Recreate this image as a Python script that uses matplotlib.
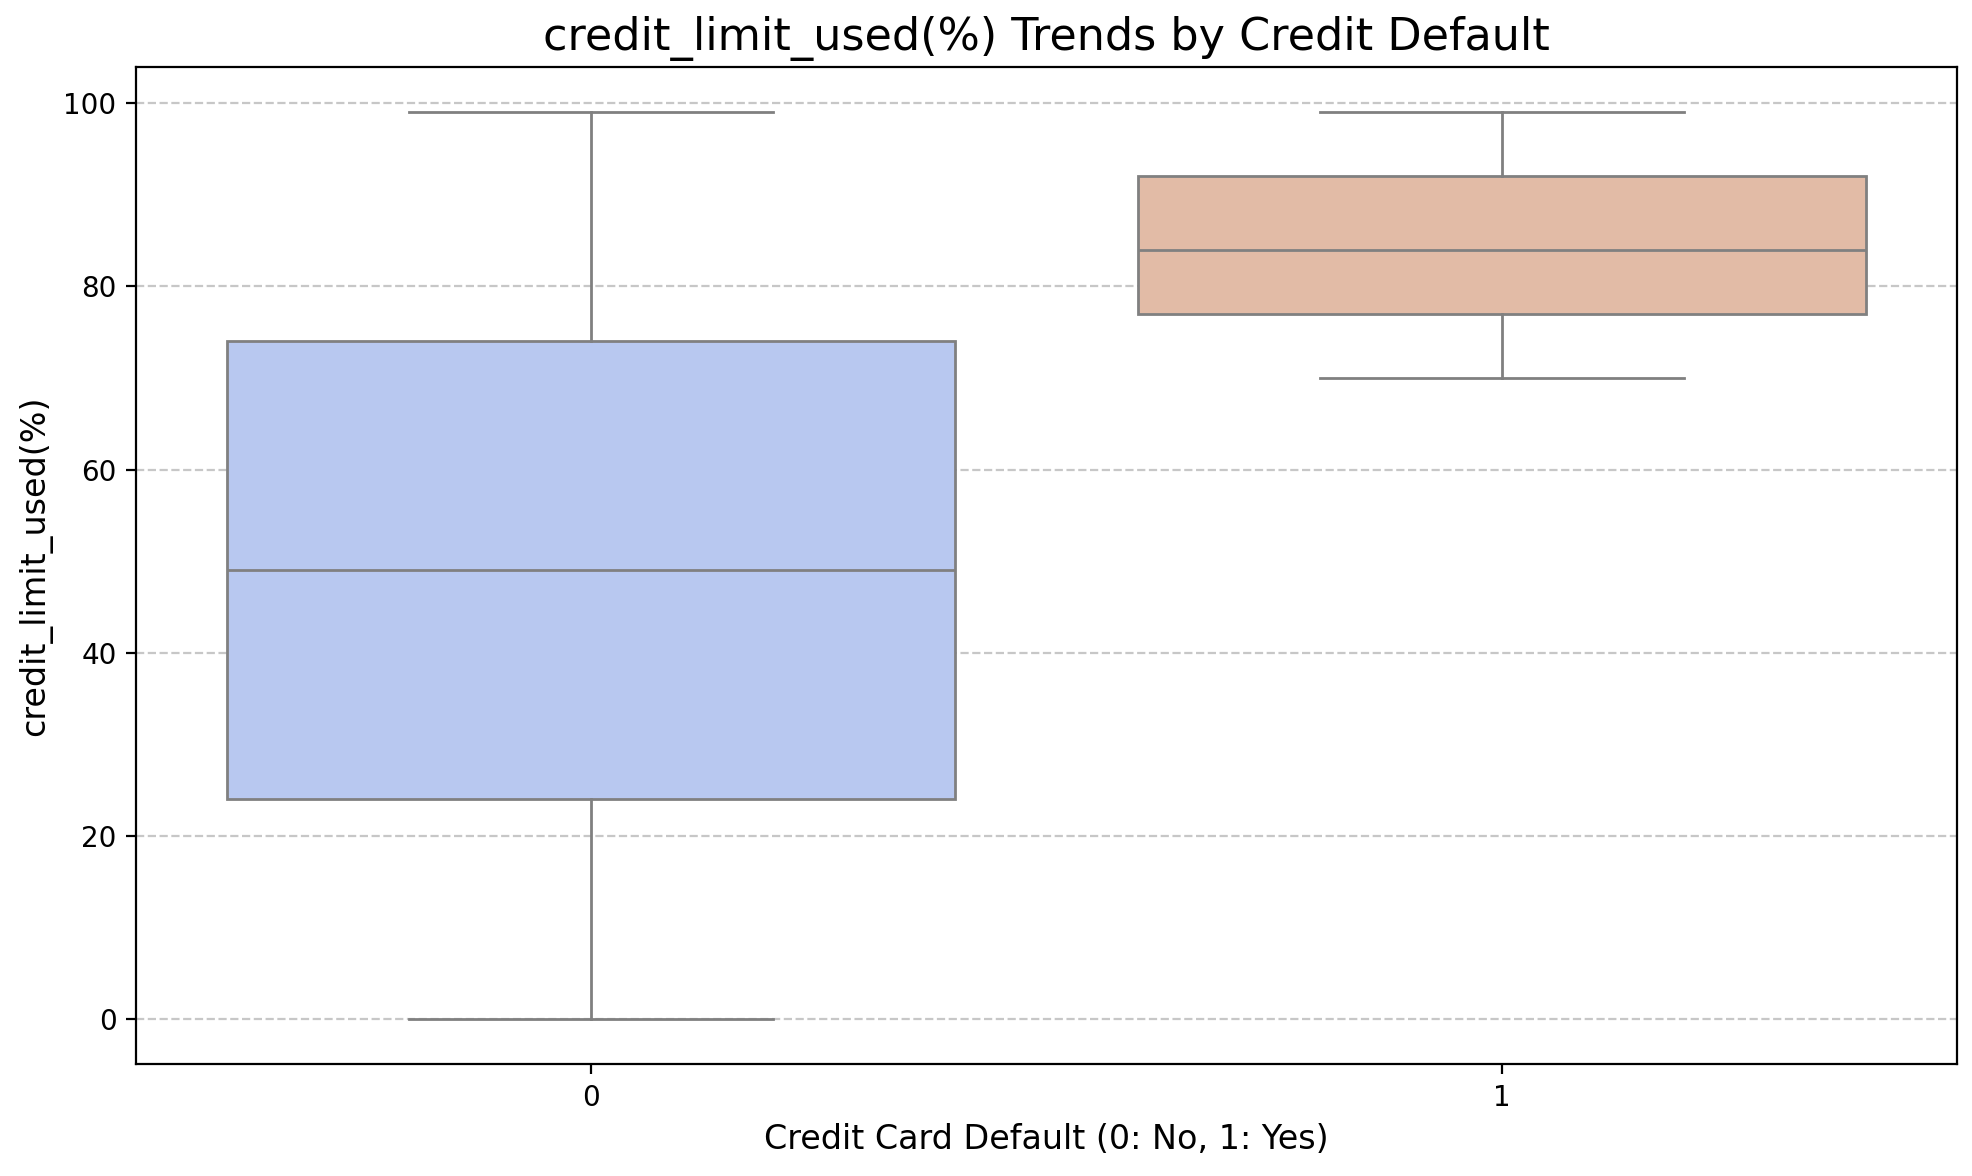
import matplotlib
matplotlib.use("Agg")
import matplotlib.pyplot as plt

# Box statistics (credit_limit_used %)
categories = ["0", "1"]
whisker_low = [0, 70]
q1 = [24, 77]
medians = [49, 84]
q3 = [74, 92]
whisker_high = [99, 99]
box_colors = ["#b8c8f0", "#e2bba6"]


def main() -> None:
    fig, ax = plt.subplots(figsize=(9.86, 5.88), dpi=200)
    fig.subplots_adjust(left=0.069, right=0.9924, top=0.943, bottom=0.095)

    stats = []
    for i, name in enumerate(categories):
        stats.append(
            {
                "label": name,
                "whislo": whisker_low[i],
                "q1": q1[i],
                "med": medians[i],
                "q3": q3[i],
                "whishi": whisker_high[i],
                "fliers": [],
            }
        )

    line_color = "#808080"
    lw = 1.0
    parts = ax.bxp(
        stats,
        positions=range(len(categories)),
        widths=0.8,
        patch_artist=True,
        showfliers=False,
        boxprops=dict(edgecolor=line_color, linewidth=lw),
        medianprops=dict(color=line_color, linewidth=lw),
        whiskerprops=dict(color=line_color, linewidth=lw),
        capprops=dict(color=line_color, linewidth=lw),
        capwidths=0.4,
        zorder=3,
    )
    for patch, color in zip(parts["boxes"], box_colors):
        patch.set_facecolor(color)

    ax.set_xlim(-0.5, 1.5)
    ax.set_ylim(-4.95, 103.95)
    ax.set_yticks([0, 20, 40, 60, 80, 100])
    ax.yaxis.grid(True, linestyle="--", color="#b0b0b0", alpha=0.7, zorder=0)
    ax.set_axisbelow(True)
    ax.tick_params(labelsize=10)

    ax.set_title("credit_limit_used(%) Trends by Credit Default", fontsize=16)
    ax.set_xlabel("Credit Card Default (0: No, 1: Yes)", fontsize=12)
    ax.set_ylabel("credit_limit_used(%)", fontsize=12)

    fig.savefig("out.png", dpi=200)


if __name__ == "__main__":
    main()
